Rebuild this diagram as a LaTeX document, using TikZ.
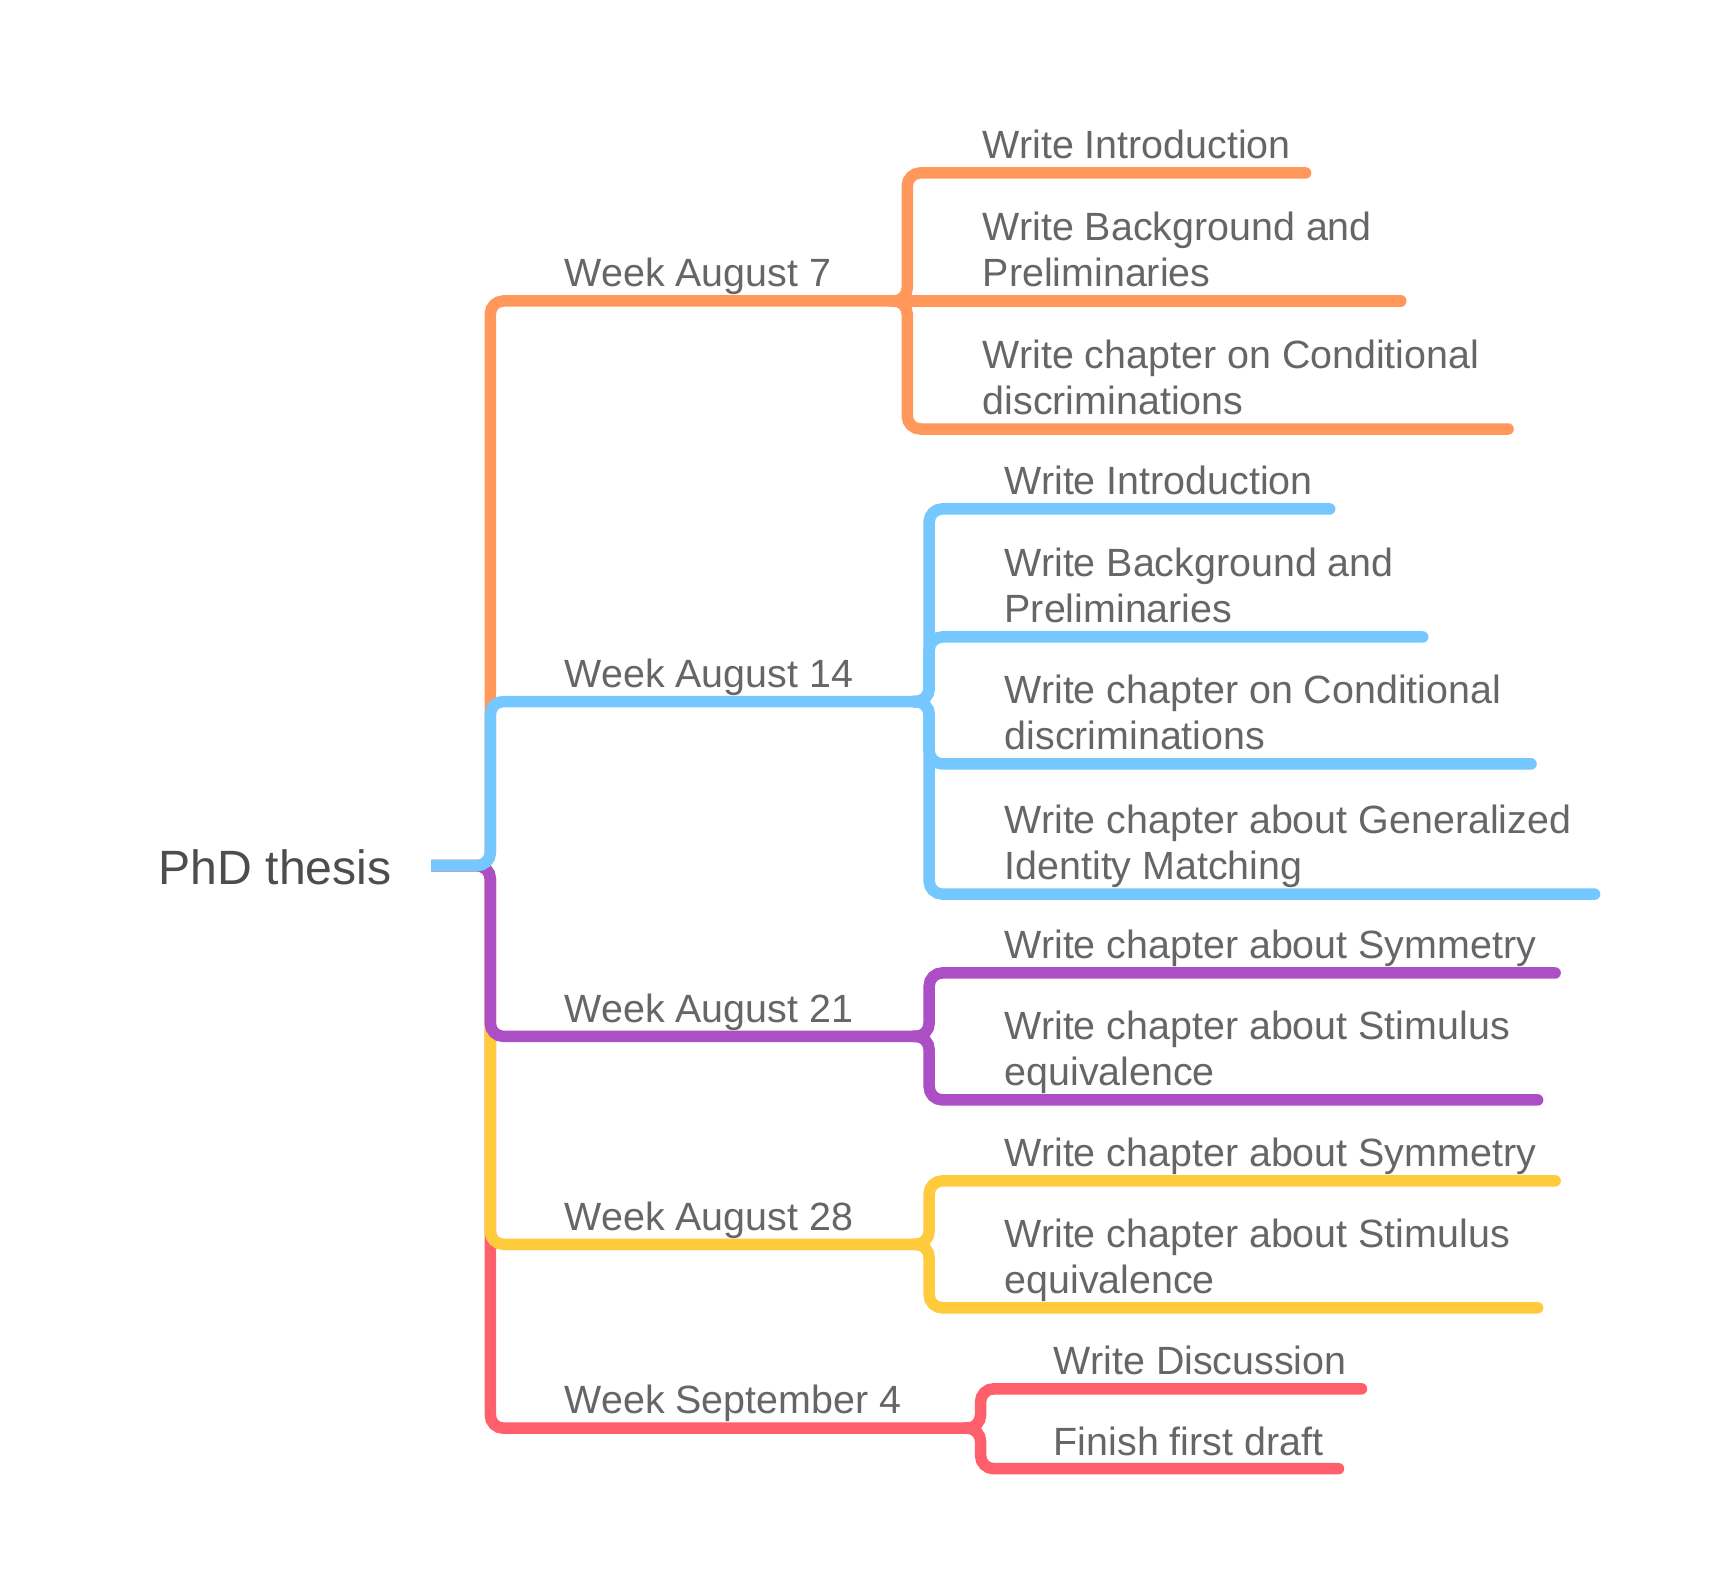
\documentclass[tikz,border=0pt]{standalone}
\usepackage{fontspec}
\setmainfont{Liberation Sans}
\definecolor{corange}{RGB}{255,152,90}
\definecolor{cblue}{RGB}{116,199,255}
\definecolor{cpurple}{RGB}{173,79,196}
\definecolor{cyellow}{RGB}{255,203,61}
\definecolor{cred}{RGB}{255,95,107}
\definecolor{cgray}{RGB}{102,102,102}
\definecolor{cdark}{RGB}{77,77,77}
\tikzset{
  lbl/.style={anchor=base west, inner sep=0pt, outer sep=0pt, text=cgray,
    font=\fontsize{18pt}{21pt}\selectfont, align=left},
  rootlbl/.style={anchor=base west, inner sep=0pt, outer sep=0pt, text=cdark,
    font=\fontsize{22pt}{26pt}\selectfont},
  trunk/.style={line width=5.25pt, rounded corners=6pt, line cap=butt},
  twig/.style={line width=5.25pt, rounded corners=6pt, line cap=round},
}
\begin{document}
\begin{tikzpicture}[x=0.5pt,y=-0.5pt]
\fill[white] (0,0) rectangle (1568,1453);
\useasboundingbox (0,0) rectangle (1568,1453);

% root
\node[rootlbl] (root) at (145,808) {PhD thesis};
\coordinate (r0) at (394,791);
\coordinate (rj) at (448,791);

% branch coordinates
\coordinate (b1) at (448,275);  \coordinate (j1) at (829,275);  \coordinate (s1) at (815,275);
\coordinate (b2) at (448,641);  \coordinate (j2) at (849,641);  \coordinate (s2) at (835,641);
\coordinate (b3) at (448,947);  \coordinate (j3) at (849,947);  \coordinate (s3) at (835,947);
\coordinate (b4) at (448,1137); \coordinate (j4) at (849,1137); \coordinate (s4) at (835,1137);
\coordinate (b5) at (448,1305); \coordinate (j5) at (896,1305); \coordinate (s5) at (882,1305);

% trunk lines
\draw[trunk,corange] (r0) -- (rj) -- (b1) -- (j1);
\draw[trunk,cred]    (r0) -- (rj) -- (b5) -- (j5);
\draw[trunk,cyellow] (r0) -- (rj) -- (b4) -- (j4);
\draw[trunk,cpurple] (r0) -- (rj) -- (b3) -- (j3);
\draw[trunk,cblue]   (r0) -- (rj) -- (b2) -- (j2);

% branch labels
\node[lbl] (w1) at (516,262)  {Week August 7};
\node[lbl] (w2) at (516,628)  {Week August 14};
\node[lbl] (w3) at (516,934)  {Week August 21};
\node[lbl] (w4) at (516,1124) {Week August 28};
\node[lbl] (w5) at (516,1292) {Week September 4};

% ---- Week August 7 children
\coordinate (e11) at (1193,158);
\coordinate (e12) at (1280,275);
\coordinate (e13) at (1378,392);
\draw[twig,corange] (s1) -- (j1) -- (j1 |- e11) -- (e11);
\draw[twig,corange] (s1) -- (e12);
\draw[twig,corange] (s1) -- (j1) -- (j1 |- e13) -- (e13);
\node[lbl] (t11) at (898,145) {Write Introduction};
\node[lbl] (t12) at (898,262) {Write Background and\\Preliminaries};
\node[lbl] (t13) at (898,379) {Write chapter on Conditional\\discriminations};

% ---- Week August 14 children
\coordinate (e21) at (1215,465);
\coordinate (e22) at (1300,582);
\coordinate (e23) at (1399,698);
\coordinate (e24) at (1457,817);
\draw[twig,cblue] (s2) -- (j2) -- (j2 |- e21) -- (e21);
\draw[twig,cblue] (s2) -- (j2) -- (j2 |- e22) -- (e22);
\draw[twig,cblue] (s2) -- (j2) -- (j2 |- e23) -- (e23);
\draw[twig,cblue] (s2) -- (j2) -- (j2 |- e24) -- (e24);
\node[lbl] (t21) at (918,452) {Write Introduction};
\node[lbl] (t22) at (918,569) {Write Background and\\Preliminaries};
\node[lbl] (t23) at (918,685) {Write chapter on Conditional\\discriminations};
\node[lbl] (t24) at (918,804) {Write chapter about Generalized\\Identity Matching};

% ---- Week August 21 children
\coordinate (e31) at (1421,889);
\coordinate (e32) at (1405,1005);
\draw[twig,cpurple] (s3) -- (j3) -- (j3 |- e31) -- (e31);
\draw[twig,cpurple] (s3) -- (j3) -- (j3 |- e32) -- (e32);
\node[lbl] (t31) at (918,876) {Write chapter about Symmetry};
\node[lbl] (t32) at (918,992) {Write chapter about Stimulus\\equivalence};

% ---- Week August 28 children
\coordinate (e41) at (1421,1079);
\coordinate (e42) at (1405,1195);
\draw[twig,cyellow] (s4) -- (j4) -- (j4 |- e41) -- (e41);
\draw[twig,cyellow] (s4) -- (j4) -- (j4 |- e42) -- (e42);
\node[lbl] (t41) at (918,1066) {Write chapter about Symmetry};
\node[lbl] (t42) at (918,1182) {Write chapter about Stimulus\\equivalence};

% ---- Week September 4 children
\coordinate (e51) at (1244,1269);
\coordinate (e52) at (1223,1342);
\draw[twig,cred] (s5) -- (j5) -- (j5 |- e51) -- (e51);
\draw[twig,cred] (s5) -- (j5) -- (j5 |- e52) -- (e52);
\node[lbl] (t51) at (963,1256) {Write Discussion};
\node[lbl] (t52) at (963,1330) {Finish first draft};
\end{tikzpicture}
\end{document}
